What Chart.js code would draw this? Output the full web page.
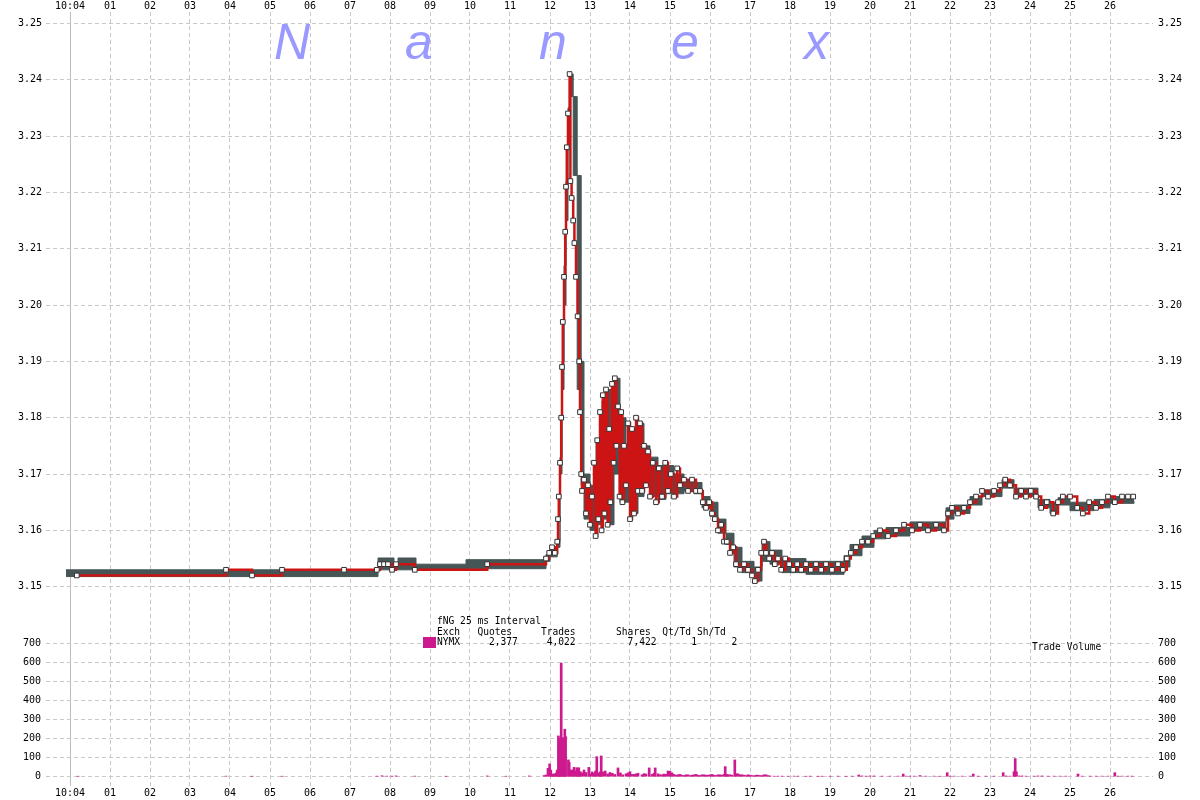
<!DOCTYPE html>
<html>
<head>
<meta charset="utf-8">
<title>fNG 25 ms Interval</title>
<script src="https://cdn.jsdelivr.net/npm/chart.js@4.4.0/dist/chart.umd.min.js"></script>
<style>
  body { margin: 0; background: #fff; }
  #wrap { position: relative; width: 1200px; height: 800px; overflow: hidden; }
  #wrap canvas { position: absolute; left: 0; top: 0; }
  .mark { position: absolute; top: 17px; font: italic 50px/50px "Liberation Sans", sans-serif; color: #9999ff; }
  .info { position: absolute; font: 9.6px/10.5px "DejaVu Sans Mono", monospace; color: #000; white-space: pre; }
  #swatch { position: absolute; left: 423px; top: 637px; width: 13px; height: 11px; background: #cc1a8e; }
</style>
</head>
<body>
<div id="wrap">
  <canvas id="chart" width="1200" height="800"></canvas>
  <span class="mark" style="left:274px">N</span>
  <span class="mark" style="left:405px">a</span>
  <span class="mark" style="left:539px">n</span>
  <span class="mark" style="left:671px">e</span>
  <span class="mark" style="left:804px">x</span>
  <div class="info" style="left:437px; top:616px">fNG 25 ms Interval
Exch   Quotes     Trades       Shares  Qt/Td Sh/Td
NYMX     2,377     4,022         7,422      1      2</div>
  <div id="swatch"></div>
  <div class="info" style="left:1032px; top:642px">Trade Volume</div>
</div>
<script>
// seconds after 10:04:00
const xTickValues = [0,1,2,3,4,5,6,7,8,9,10,11,12,13,14,15,16,17,18,19,20,21,22,23,24,25,26];
const xTickLabels = ['10:04','01','02','03','04','05','06','07','08','09','10','11','12','13',
                     '14','15','16','17','18','19','20','21','22','23','24','25','26'];
const priceTicks = [3.15,3.16,3.17,3.18,3.19,3.20,3.21,3.22,3.23,3.24,3.25];
const priceTickLabels = ['3.15','3.16','3.17','3.18','3.19','3.20','3.21','3.22','3.23','3.24','3.25'];
const volTicks = [0,100,200,300,400,500,600,700];

// trades (red)
const tradeSec = [0.17,3.9,4.55,5.3,6.85,7.67,7.75,7.85,7.95,8.05,8.15,8.62,10.43,
  11.9,11.98,12.05,12.12,12.18,12.2,12.22,12.25,12.28,12.3,12.32,12.35,12.38,12.4,12.42,12.45,12.49,
  12.51,12.54,12.58,12.61,12.65,12.69,12.73,12.75,12.78,12.8,12.85,12.9,12.95,13.0,13.05,13.1,
  13.14,13.18,13.21,13.25,13.29,13.32,13.36,13.4,13.44,13.48,13.51,13.55,13.59,13.62,13.66,13.7,
  13.74,13.78,13.81,13.85,13.9,13.95,14.0,14.05,14.1,14.15,14.2,14.25,14.3,14.35,14.4,14.45,14.5,
  14.57,14.65,14.72,14.8,14.88,14.95,15.02,15.1,15.18,15.25,15.35,15.45,15.55,15.65,15.75,15.82,
  15.9,15.98,16.05,16.12,16.2,16.28,16.35,16.42,16.5,16.58,16.65,16.75,16.85,16.95,17.05,17.12,
  17.2,17.28,17.35,17.4,17.48,17.55,17.62,17.7,17.78,17.88,17.98,18.08,18.18,18.28,18.4,18.52,
  18.65,18.78,18.9,19.05,19.2,19.32,19.42,19.52,19.65,19.8,19.95,20.08,20.25,20.45,20.65,20.85,
  21.05,21.25,21.45,21.65,21.85,21.95,22.05,22.2,22.35,22.5,22.65,22.8,22.95,23.1,23.25,23.38,
  23.5,23.65,23.78,23.9,24.02,24.15,24.28,24.42,24.58,24.7,24.82,25.0,25.18,25.32,25.48,25.65,
  25.8,25.95,26.12,26.3,26.45,26.58];
const tradePx = [3.152,3.153,3.152,3.153,3.153,3.153,3.154,3.154,3.154,3.153,3.154,3.153,3.154,
  3.155,3.156,3.157,3.156,3.158,3.162,3.166,3.172,3.180,3.189,3.197,3.205,3.213,3.221,3.228,3.234,3.241,
  3.222,3.219,3.215,3.211,3.205,3.198,3.190,3.181,3.170,3.167,3.169,3.163,3.168,3.161,3.166,3.172,
  3.159,3.176,3.162,3.181,3.160,3.184,3.163,3.185,3.161,3.178,3.165,3.186,3.172,3.187,3.175,3.182,
  3.166,3.181,3.165,3.175,3.168,3.179,3.162,3.178,3.163,3.180,3.167,3.179,3.167,3.175,3.168,3.174,3.166,
  3.172,3.165,3.171,3.166,3.172,3.167,3.170,3.166,3.171,3.168,3.169,3.167,3.169,3.167,3.167,3.165,
  3.164,3.165,3.163,3.162,3.160,3.161,3.158,3.158,3.156,3.157,3.154,3.153,3.154,3.153,3.152,3.151,
  3.153,3.156,3.158,3.156,3.155,3.156,3.154,3.155,3.153,3.155,3.154,3.153,3.154,3.153,3.154,3.153,
  3.154,3.153,3.154,3.153,3.154,3.153,3.155,3.156,3.157,3.158,3.158,3.159,3.160,3.159,3.160,3.161,
  3.160,3.161,3.160,3.161,3.160,3.163,3.164,3.163,3.164,3.165,3.166,3.167,3.166,3.167,3.168,3.169,
  3.168,3.166,3.167,3.166,3.167,3.166,3.164,3.165,3.163,3.165,3.166,3.166,3.164,3.163,3.165,3.164,
  3.165,3.166,3.165,3.166,3.166,3.166];

// quotes (gray band, bid to ask)
const quoteSec = [-0.1,7.7,8.1,8.2,8.65,9.9,11.9,12.0,12.18,12.25,12.3,12.35,12.4,12.45,12.5,12.58,
  12.68,12.78,12.85,13.0,13.15,13.3,13.45,13.6,13.75,13.9,14.05,14.2,14.35,14.5,14.7,14.9,15.1,15.35,
  15.6,15.8,16.0,16.2,16.4,16.6,16.8,17.1,17.3,17.5,17.8,18.4,19.35,19.5,19.8,20.1,20.4,21.0,21.9,
  22.1,22.5,22.8,23.3,23.6,24.2,24.5,24.7,25.0,25.6,26.0,26.6];
const quoteBid = [3.1518,3.1530,3.1530,3.1530,3.1529,3.1532,3.1545,3.1553,3.1570,3.1700,3.1850,3.2000,
  3.2150,3.2300,3.2370,3.2230,3.1850,3.1680,3.1620,3.1600,3.1610,3.1620,3.1610,3.1700,3.1650,3.1650,
  3.1630,3.1660,3.1680,3.1660,3.1655,3.1665,3.1665,3.1670,3.1665,3.1640,3.1625,3.1595,3.1575,3.1535,
  3.1525,3.1510,3.1545,3.1540,3.1525,3.1522,3.1535,3.1555,3.1570,3.1585,3.1590,3.1600,3.1620,3.1630,
  3.1645,3.1660,3.1675,3.1660,3.1640,3.1630,3.1645,3.1635,3.1640,3.1648,3.1652];
const quoteAsk = [3.1530,3.1551,3.1540,3.1551,3.1540,3.1548,3.1557,3.1571,3.1580,3.1730,3.1900,3.2070,
  3.2220,3.2350,3.2410,3.2370,3.2230,3.1900,3.1700,3.1680,3.1760,3.1830,3.1850,3.1870,3.1800,3.1750,
  3.1780,3.1790,3.1750,3.1730,3.1715,3.1715,3.1700,3.1690,3.1685,3.1660,3.1650,3.1620,3.1595,3.1570,
  3.1545,3.1535,3.1580,3.1565,3.1550,3.1545,3.1555,3.1575,3.1590,3.1600,3.1605,3.1615,3.1640,3.1645,
  3.1660,3.1672,3.1690,3.1675,3.1655,3.1650,3.1658,3.1650,3.1655,3.1660,3.1662];

// trade volume per 25 ms interval
const volSec = [0.2,3.9,4.55,5.3,7.67,7.8,7.92,8.05,8.15,8.62,9.4,10.43,10.9,11.48,11.85,11.9,11.95,
  11.99,12.02,12.05,12.08,12.1,12.13,12.16,12.18,12.21,12.23,12.25,12.28,12.3,12.33,12.35,12.37,12.39,
  12.46,12.48,12.52,12.56,12.6,12.64,12.67,12.7,12.72,12.76,12.8,12.85,12.9,12.97,13.0,13.05,13.1,
  13.14,13.17,13.22,13.25,13.28,13.32,13.38,13.44,13.5,13.56,13.62,13.7,13.76,13.82,13.9,13.95,14.0,
  14.05,14.1,14.15,14.2,14.3,14.35,14.4,14.48,14.55,14.6,14.63,14.7,14.75,14.8,14.85,14.9,14.95,15.0,
  15.05,15.1,15.15,15.2,15.25,15.3,15.35,15.4,15.45,15.5,15.55,15.6,15.65,15.7,15.75,15.8,15.85,15.9,
  15.95,16.0,16.05,16.1,16.15,16.2,16.25,16.3,16.35,16.38,16.42,16.45,16.5,16.55,16.62,16.66,16.7,
  16.75,16.8,16.85,16.9,16.95,17.0,17.05,17.1,17.15,17.2,17.25,17.3,17.35,17.4,17.45,17.5,17.6,17.7,
  17.8,17.95,18.1,18.2,18.4,18.5,18.7,18.8,19.0,19.2,19.4,19.55,19.72,19.8,19.9,20.0,20.1,20.3,20.5,
  20.7,20.83,20.9,21.0,21.1,21.25,21.4,21.6,21.75,21.93,22.0,22.1,22.3,22.5,22.58,22.7,22.9,23.1,
  23.33,23.4,23.5,23.6,23.63,23.66,23.72,23.8,23.9,24.1,24.2,24.3,24.45,24.6,24.75,24.9,25.2,25.3,
  25.5,25.65,25.8,25.95,26.12,26.2,26.3,26.45,26.55];
const volSize = [2,3,2,2,3,5,3,3,4,3,2,4,2,4,6,9,44,
  67,35,12,14,14,14,20,35,214,167,200,596,200,205,160,249,210,
  88,75,35,35,49,30,47,40,47,26,20,35,22,49,15,25,20,
  30,105,18,25,109,25,30,15,22,18,12,46,20,10,15,20,26,
  12,12,15,18,10,16,14,46,12,18,46,15,10,10,14,12,30,28,
  20,12,8,10,12,8,6,10,10,6,8,10,12,8,6,10,10,8,
  8,10,12,8,6,10,10,8,12,53,12,10,10,8,88,15,15,
  10,10,8,6,10,8,6,5,8,8,6,6,10,10,6,4,3,3,
  3,2,3,3,2,3,2,2,2,3,2,3,9,4,3,4,4,3,3,
  3,14,3,3,3,6,3,3,2,21,3,3,3,3,14,3,3,3,
  21,4,3,26,95,26,4,4,3,3,4,4,3,3,3,3,14,3,
  3,3,3,3,21,3,3,3,3];

const gridColor = '#c8c8c8';
const gridDash = [4, 3];
const tickFont = { family: 'DejaVu Sans Mono', size: 10 };

function fixTicks(values) {
  return axis => { axis.ticks = values.map(v => ({ value: v })); };
}
function pts(xs, ys) {
  return xs.map((x, i) => ({ x: x, y: ys[i] }));
}

new Chart(document.getElementById('chart'), {
  type: 'line',
  data: {
    datasets: [
      {
        label: 'Trades',
        data: pts(tradeSec, tradePx),
        yAxisID: 'y',
        stepped: 'before',
        borderColor: '#cc1414',
        borderWidth: 2.5,
        pointStyle: 'rect',
        pointRadius: 3.3,
        pointBorderWidth: 1,
        pointBorderColor: '#333',
        pointBackgroundColor: '#fff',
        fill: false,
        order: 0
      },
      {
        label: 'Bid',
        data: pts(quoteSec, quoteBid),
        yAxisID: 'y',
        stepped: 'before',
        borderColor: '#465555',
        borderWidth: 1,
        pointRadius: 0,
        fill: false,
        order: 3
      },
      {
        label: 'Ask',
        data: pts(quoteSec, quoteAsk),
        yAxisID: 'y',
        stepped: 'before',
        borderColor: '#465555',
        backgroundColor: '#465555',
        borderWidth: 1,
        pointRadius: 0,
        fill: '-1',
        order: 2
      },
      {
        type: 'bar',
        label: 'Trade Volume',
        data: pts(volSec, volSize),
        yAxisID: 'yVol',
        backgroundColor: '#cc1a8e',
        borderWidth: 0,
        barThickness: 2,
        grouped: false,
        order: 1
      }
    ]
  },
  options: {
    responsive: false,
    animation: false,
    events: [],
    layout: { padding: 0 },
    plugins: { legend: { display: false }, tooltip: { enabled: false } },
    scales: {
      x: {
        type: 'linear', position: 'bottom', min: -0.6, max: 27.075, offset: false,
        afterBuildTicks: fixTicks(xTickValues),
        afterFit: s => { s.height = 14; },
        grid: {
          offset: false,
          color: c => (c.tick && c.tick.value === 0 ? '#bdbdbd' : gridColor),
          drawTicks: false
        },
        border: { display: false, dash: c => (c.tick && c.tick.value === 0 ? [] : gridDash) },
        ticks: { autoSkip: false, maxRotation: 0, padding: 1, color: '#000', font: tickFont,
                 callback: (v, i) => xTickLabels[i] }
      },
      xTop: {
        type: 'linear', position: 'top', min: -0.6, max: 27.075, offset: false,
        afterBuildTicks: fixTicks(xTickValues),
        afterFit: s => { s.height = 12; },
        grid: { display: false, drawTicks: false, offset: false },
        border: { display: false },
        ticks: { autoSkip: false, maxRotation: 0, padding: 0, color: '#000', font: tickFont,
                 callback: (v, i) => xTickLabels[i] }
      },
      y: {
        type: 'linear', position: 'left', stack: 'left', stackWeight: 603, weight: 1,
        min: 3.14498, max: 3.25201,
        afterBuildTicks: fixTicks(priceTicks),
        afterFit: s => { s.width = 46; },
        grid: { color: gridColor, drawTicks: false },
        border: { display: false, dash: gridDash },
        ticks: { autoSkip: false, padding: 4, color: '#000', font: tickFont,
                 callback: (v, i) => priceTickLabels[i] }
      },
      yVol: {
        type: 'linear', position: 'left', stack: 'left', stackWeight: 171, weight: 0,
        min: -48.8, max: 848.5,
        afterBuildTicks: fixTicks(volTicks),
        afterFit: s => { s.width = 46; },
        grid: { color: gridColor, drawTicks: false },
        border: { display: false, dash: gridDash },
        ticks: { autoSkip: false, padding: 5, color: '#000', font: tickFont }
      },
      yR: {
        type: 'linear', position: 'right', stack: 'right', stackWeight: 603, weight: 0,
        min: 3.14498, max: 3.25201,
        afterBuildTicks: fixTicks(priceTicks),
        afterFit: s => { s.width = 47; },
        grid: { drawOnChartArea: false, drawTicks: false },
        border: { display: false },
        ticks: { autoSkip: false, padding: 5, color: '#000', font: tickFont,
                 callback: (v, i) => priceTickLabels[i] }
      },
      yVolR: {
        type: 'linear', position: 'right', stack: 'right', stackWeight: 171, weight: 1,
        min: -48.8, max: 848.5,
        afterBuildTicks: fixTicks(volTicks),
        afterFit: s => { s.width = 47; },
        grid: { drawOnChartArea: false, drawTicks: false },
        border: { display: false },
        ticks: { autoSkip: false, padding: 5, color: '#000', font: tickFont }
      }
    }
  }
});
</script>
</body>
</html>
